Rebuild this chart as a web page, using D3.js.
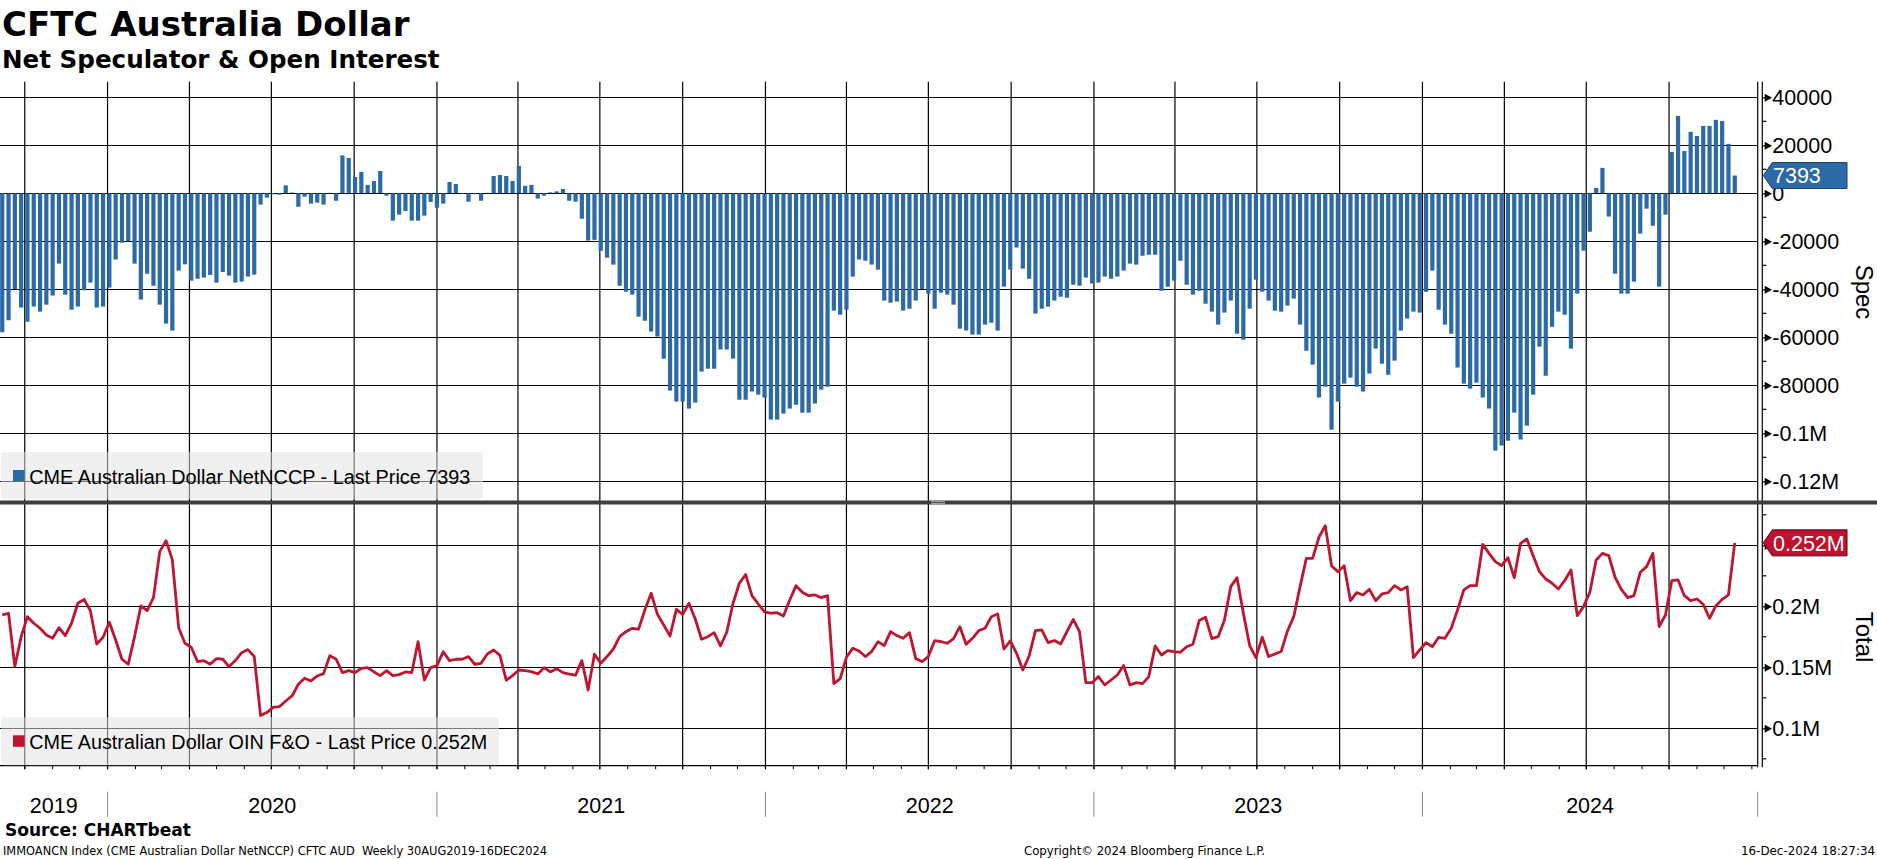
<!DOCTYPE html>
<html lang="en">
<head>
<meta charset="UTF-8">
<title>CFTC Australia Dollar</title>
<script src="https://d3js.org/d3.v7.min.js"></script>
<style>
  body { margin: 0; background: #fff; }
  svg { display: block; }
  .tick line { shape-rendering: crispEdges; }
</style>
</head>
<body>
<div id="chart"></div>
<script>
// weekly CFTC data, first release Fri 6 Sep 2019
const firstDate = new Date(2019, 8, 6);

// net non-commercial position (contracts)
const netSpec = [
  -57900, -52900, -39900, -47600, -53500, -47200, -49300, -46400, -42600, -29300,
  -42200, -48500, -47200, -40400, -37200, -47600, -47200, -39300, -27600, -20600,
  -20000, -29300, -44300, -33500, -38500, -46400, -54300, -57200, -32200, -29600,
  -36400, -35600, -35100, -34000, -37200, -32800, -34300, -37200, -36800, -34700,
  -33900, -4700, -1800, -400, -600, 3300, 300, -5600, -1400, -4300,
  -3900, -4700, 200, -3100, 15800, 14700, 6800, 8900, 3500, 5100,
  9300, -1000, -11400, -8900, -7400, -11400, -11400, -9300, -3600, -6000,
  -4300, 4700, 3900, -200, -3500, -400, -3100, 200, 7200, 7600,
  7200, 5100, 11400, 3100, 3500, -2200, -1000, 400, 800, 1800,
  -3100, -3500, -10600, -19700,
  -19400, -24000, -26800, -29700, -38500, -41000, -42200, -51400, -53100, -57600,
  -59700, -68900, -82200, -86800, -86800, -89700, -87200, -74300, -73100, -73100,
  -65100, -65100, -68900, -86000, -86000, -82600, -83900, -85100, -94300, -94300,
  -91800, -89700, -88100, -91400, -91400, -87600, -81800, -80600, -48900, -50600,
  -48500, -34700, -27600, -28100, -29700, -31800, -44700, -45600, -45100, -48900,
  -48100, -44700, -39900, -41800, -48100, -41400, -42200, -46400, -56400, -57200,
  -58900, -58900, -54700, -53900, -57200, -38900, -31800, -22600, -31400, -35600,
  -50100, -48100, -47200, -44700, -43100, -43500, -38100, -38500, -35100, -37600,
  -37200, -34700, -35600, -34700, -32200, -29300, -29700, -26000, -25600, -25600,
  -40600, -38900, -36400,
  -28100, -38100, -42200, -40600, -46000, -49300, -54700, -49700, -44700, -58500,
  -61000, -48100, -36000, -41000, -44700, -48900, -49300, -46800, -43900, -54700,
  -65600, -71400, -85100, -80600, -98500, -86800, -79300, -76800, -80600, -82600,
  -75100, -64700, -71000, -75600, -69700, -57200, -52200, -49300, -49700, -41000,
  -32200, -48500, -54700, -58500, -72600, -79300, -81400, -78900, -85100, -89700,
  -107200, -105100, -103100, -91400, -102600, -96800, -83900, -63900, -76000, -55600,
  -49300, -50600, -64700, -41800, -23900, -16000, 2200, 10600, -9700, -33500,
  -41800, -41800, -36800, -16800, -6400, -13500, -38900, -8900, 17200, 32200,
  17600, 25600, 23900, 28100, 28100, 30600, 30100, 20600, 7393
];

// open interest, futures & options (thousands of contracts)
const openInt = [
  192.9, 194.3, 150.6, 175.1, 191.5, 186.1, 182.0, 176.5, 173.8, 182.5,
  176.0, 186.1, 202.5, 205.7, 196.2, 169.1, 174.6, 186.9, 172.4, 156.6,
  152.5, 175.1, 200.3, 196.5, 207.1, 244.8, 253.8, 238.0, 182.5, 169.7,
  166.4, 154.7, 155.5, 152.5, 157.1, 156.6, 150.6, 155.5, 162.0, 164.5,
  158.8, 110.4, 112.9, 117.2, 117.8, 122.4, 126.5, 136.1, 141.0, 138.8,
  142.9, 144.8, 159.6, 156.6, 145.6, 147.3, 145.6, 149.2, 149.7, 146.2,
  143.2, 147.3, 143.2, 144.0, 146.2, 145.6, 171.0, 139.6, 149.7, 151.4,
  162.8, 155.5, 156.6, 156.6, 158.8, 152.5, 153.3, 160.9, 164.2, 159.8,
  139.4, 143.2, 147.8, 147.3, 146.5, 144.5, 149.7, 146.2, 148.9, 145.6,
  144.5, 143.5, 155.5, 131.4,
  160.7, 153.3, 158.8, 165.0, 175.1, 179.2, 182.0, 181.2, 197.0, 210.7,
  193.4, 184.7, 175.7, 197.5, 193.4, 202.5, 189.6, 173.0, 175.1, 178.4,
  167.5, 178.7, 202.5, 218.9, 226.0, 208.7, 201.9, 195.4, 194.3, 194.8,
  192.1, 205.2, 216.9, 211.5, 208.7, 209.3, 207.1, 208.7, 136.6, 140.7,
  158.2, 165.6, 163.4, 158.8, 162.9, 171.0, 167.8, 179.2, 176.0, 173.8,
  178.4, 157.1, 154.7, 158.8, 171.9, 171.0, 169.7, 173.5, 183.3, 168.9,
  173.8, 180.1, 182.0, 191.5, 193.7, 165.0, 171.6, 161.5, 147.8, 159.3,
  180.1, 180.6, 170.2, 171.9, 169.1, 179.2, 189.3, 179.2, 137.4, 137.4,
  142.4, 135.5, 139.6, 143.7, 151.4, 135.5, 137.4, 136.6, 142.4, 167.5,
  160.1, 163.7, 162.9,
  162.3, 166.9, 168.9, 188.3, 191.0, 173.5, 175.1, 188.8, 216.1, 223.5,
  194.3, 167.8, 157.9, 174.6, 158.8, 160.9, 162.9, 179.8, 191.5, 216.1,
  239.3, 239.3, 256.6, 266.1, 233.3, 228.4, 233.3, 204.6, 211.2, 209.3,
  213.9, 204.6, 210.1, 211.2, 216.9, 213.4, 216.1, 157.9, 164.2, 170.2,
  166.9, 174.6, 173.8, 182.0, 197.0, 213.4, 216.9, 216.9, 250.8, 243.4,
  236.6, 233.3, 239.9, 223.5, 251.6, 255.2, 241.5, 228.4, 222.4, 218.9,
  214.2, 221.0, 229.8, 192.4, 199.7, 211.5, 238.0, 243.4, 241.5, 223.8,
  213.9, 207.1, 208.7, 227.9, 232.5, 243.4, 183.3, 192.9, 221.0, 221.6,
  208.7, 204.6, 206.0, 201.6, 190.2, 200.3, 205.7, 209.3, 252.0
];

const specTicks = [40000, 20000, 0, -20000, -40000, -60000, -80000, -100000, -120000];
const specMinor = [30000, 10000, -10000, -30000, -50000, -70000, -90000, -110000];
const oiTicks = [250, 200, 150, 100];
const oiMinor = [275, 225, 175, 125, 75];
const years = [2019, 2020, 2021, 2022, 2023, 2024];

const W = 1877, H = 859;
const plotRight = 1757.7, axisX = 1762.3;
const topY = 81.7, sepY = 502.5, bottomY = 765.7;
const blue = "#2c69a7", red = "#c0152f";

const dates = netSpec.map((d, i) => d3.timeDay.offset(firstDate, 7 * i));

const svg = d3.select("#chart").append("svg")
  .attr("width", W).attr("height", H)
  .style("font-family", "'Liberation Sans', Arial, sans-serif");

const x = d3.scaleTime()
  .domain([new Date(2019, 8, 3, 12), new Date(2025, 0, 7, 12)])
  .range([0, plotRight]);
const ySpec = d3.scaleLinear().domain([-120000, 40000]).range([481.3, 97.3]);
const yOI = d3.scaleLinear().domain([100, 250]).range([728.3, 545.3]);

// title
svg.append("text").attr("x", 2).attr("y", 36)
  .style("font-family", "'DejaVu Sans', sans-serif").style("font-weight", "bold")
  .style("font-size", "34px").text("CFTC Australia Dollar");
svg.append("text").attr("x", 2).attr("y", 67.5)
  .style("font-family", "'DejaVu Sans', sans-serif").style("font-weight", "bold")
  .style("font-size", "24.6px").text("Net Speculator & Open Interest");

// vertical quarter grid + monthly ticks
const quarters = d3.timeMonth.every(3).range(new Date(2019, 9, 1), new Date(2024, 11, 1));
svg.append("g").selectAll("line").data(quarters).join("line")
  .attr("x1", d => x(d)).attr("x2", d => x(d))
  .attr("y1", topY).attr("y2", bottomY + 3.5)
  .attr("stroke", "#000").attr("stroke-width", 1.2);
const months = d3.timeMonth.range(new Date(2019, 8, 4), new Date(2025, 0, 5));
svg.append("g").selectAll("line").data(months).join("line")
  .attr("x1", d => x(d)).attr("x2", d => x(d))
  .attr("y1", bottomY).attr("y2", bottomY + 3.5)
  .attr("stroke", "#000").attr("stroke-width", 1);

// horizontal grids via axes
const gridSpec = svg.append("g").attr("transform", `translate(${plotRight},0)`)
  .call(d3.axisLeft(ySpec).tickValues(specTicks).tickSize(plotRight).tickFormat(""));
const gridOI = svg.append("g").attr("transform", `translate(${plotRight},0)`)
  .call(d3.axisLeft(yOI).tickValues(oiTicks).tickSize(plotRight).tickFormat(""));
[gridSpec, gridOI].forEach(g => {
  g.select(".domain").remove();
  g.selectAll(".tick line").attr("stroke", "#000").attr("stroke-width", 1.2);
});

// bars
const barW = 4.2;
svg.append("g").selectAll("rect").data(netSpec).join("rect")
  .attr("x", (d, i) => x(dates[i]) - barW / 2)
  .attr("width", barW)
  .attr("y", d => ySpec(Math.max(0, d)))
  .attr("height", d => Math.abs(ySpec(d) - ySpec(0)))
  .attr("fill", blue);

// open interest line
svg.append("path").datum(openInt)
  .attr("fill", "none").attr("stroke", red).attr("stroke-width", 2.8)
  .attr("stroke-linejoin", "round")
  .attr("d", d3.line().x((d, i) => x(dates[i])).y(d => yOI(d)));

// bottom axis line and plot right border
svg.append("line").attr("x1", 0).attr("x2", plotRight).attr("y1", bottomY).attr("y2", bottomY)
  .attr("stroke", "#000").attr("stroke-width", 1.2);
[plotRight, axisX].forEach(px => {
  svg.append("line").attr("x1", px).attr("x2", px).attr("y1", topY).attr("y2", bottomY + 1.5)
    .attr("stroke", "#000").attr("stroke-width", 1.2);
});

// separator between panels
svg.append("rect").attr("x", 0).attr("y", sepY - 2).attr("width", W).attr("height", 4).attr("fill", "#3d3d3d");
svg.append("line").attr("x1", 931).attr("x2", 945).attr("y1", sepY - 0.8).attr("y2", sepY - 0.8).attr("stroke", "#aaa");
svg.append("line").attr("x1", 931).attr("x2", 945).attr("y1", sepY + 0.9).attr("y2", sepY + 0.9).attr("stroke", "#aaa");

// right axes
function fmtSpec(v) { return Math.abs(v) >= 100000 ? (v / 1e6) + "M" : String(v); }
// the 0.25M label sits under the last-value tag, so it is left blank
function fmtOI(v) { return v === 250 ? "" : (v / 1000) + "M"; }

function rightAxis(scale, ticks, minor, fmt) {
  const g = svg.append("g").attr("transform", `translate(${axisX},0)`)
    .call(d3.axisRight(scale).tickValues(ticks).tickSize(0).tickPadding(10).tickFormat(fmt));
  g.select(".domain").remove();
  g.selectAll(".tick text").style("font-family", "'Liberation Sans', Arial, sans-serif")
    .style("font-size", "21.5px").attr("fill", "#000");
  g.selectAll(".tick").append("path")
    .attr("d", "M0,0H3.5M3,-3L8.5,0L3,3Z")
    .attr("stroke", "#000").attr("stroke-width", 1.2).attr("fill", "#000");
  g.selectAll(".minor").data(minor).join("line").attr("class", "minor")
    .attr("x1", 0).attr("x2", 4).attr("y1", d => scale(d)).attr("y2", d => scale(d))
    .attr("stroke", "#000").attr("stroke-width", 1.2);
}
rightAxis(ySpec, specTicks, specMinor, fmtSpec);
rightAxis(yOI, oiTicks, oiMinor, fmtOI);

svg.append("text").attr("transform", "translate(1856,292) rotate(90)")
  .attr("text-anchor", "middle").style("font-size", "24px").text("Spec");
svg.append("text").attr("transform", "translate(1856,637) rotate(90)")
  .attr("text-anchor", "middle").style("font-size", "24px").text("Total");

// last value tags
function lastTag(yv, label, fill, edge) {
  const h = 13;
  svg.append("path")
    .attr("d", `M${axisX + 1},${yv}L${axisX + 10},${yv - h}H1847V${yv + h}H${axisX + 10}Z`)
    .attr("fill", fill).attr("stroke", edge).attr("stroke-width", 1);
  svg.append("text").attr("x", 1773).attr("y", yv).attr("dy", "0.36em")
    .attr("fill", "#fff").style("font-size", "21.5px").text(label);
}
lastTag(ySpec(netSpec[netSpec.length - 1]), "7393", blue, "#1e3c62");
lastTag(yOI(openInt[openInt.length - 1]), "0.252M", "#c0102e", "#4a0a12");

// legends
function legend(y0, h, w, color, label, textW) {
  svg.append("rect").attr("x", 1).attr("y", y0).attr("width", w).attr("height", h).attr("rx", 4)
    .attr("fill", "#e2e2e2").attr("fill-opacity", 0.53);
  svg.append("rect").attr("x", 13).attr("y", y0 + 18).attr("width", 11.5).attr("height", 11.5).attr("fill", color);
  svg.append("text").attr("x", 29.3).attr("y", y0 + 31.5)
    .attr("textLength", textW).attr("lengthAdjust", "spacingAndGlyphs")
    .style("font-size", "20px").attr("fill", "#000").text(label);
}
legend(452, 47, 482, blue, "CME Australian Dollar NetNCCP - Last Price 7393", 441);
legend(717.3, 48, 498, red, "CME Australian Dollar OIN F&O - Last Price 0.252M", 458);

// year labels and separators
const yearEdges = years.map(yr => yr === 2019 ? 0 : x(new Date(yr, 0, 1)));
yearEdges.push(plotRight);
svg.append("g").selectAll("line").data(yearEdges.slice(1)).join("line")
  .attr("x1", d => d).attr("x2", d => d).attr("y1", 791.7).attr("y2", 816.7)
  .attr("stroke", "#8c8c8c").attr("stroke-width", 1);
svg.append("g").selectAll("text").data(years).join("text")
  .attr("x", (d, i) => (yearEdges[i] + yearEdges[i + 1]) / 2)
  .attr("y", 812.7).attr("text-anchor", "middle").style("font-size", "21.5px").text(d => d);

// footer
svg.append("text").attr("x", 5).attr("y", 836)
  .style("font-family", "'DejaVu Sans', sans-serif").style("font-weight", "bold")
  .style("font-size", "17px").text("Source: CHARTbeat");
const small = "'DejaVu Sans Condensed', 'Liberation Sans', sans-serif";
svg.append("text").attr("x", 3).attr("y", 854.5).style("font-family", small).style("font-size", "11.5px")
  .style("white-space", "pre")
  .attr("textLength", 544).attr("lengthAdjust", "spacingAndGlyphs")
  .text("IMMOANCN Index (CME Australian Dollar NetNCCP) CFTC AUD\u00A0 Weekly 30AUG2019-16DEC2024");
svg.append("text").attr("x", 1024).attr("y", 854.5).style("font-family", small).style("font-size", "11.5px")
  .attr("textLength", 241).attr("lengthAdjust", "spacingAndGlyphs")
  .text("Copyright\u00A9 2024 Bloomberg Finance L.P.");
svg.append("text").attr("x", 1875).attr("y", 854.5).attr("text-anchor", "end")
  .style("font-family", small).style("font-size", "11.5px")
  .attr("textLength", 134).attr("lengthAdjust", "spacingAndGlyphs")
  .text("16-Dec-2024 18:27:34");
</script>
</body>
</html>
